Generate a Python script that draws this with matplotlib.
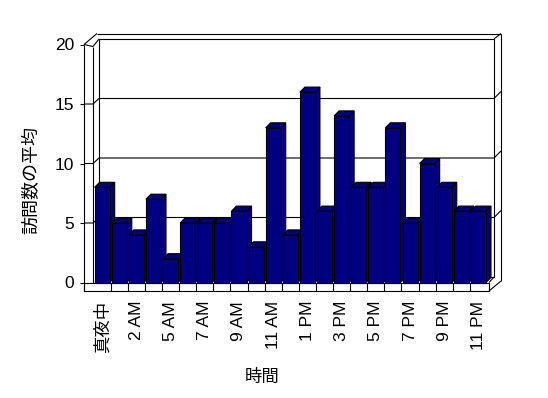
import matplotlib
matplotlib.use("Agg")
import matplotlib.pyplot as plt
from matplotlib.patches import Polygon

plt.rcParams['font.family'] = ['Liberation Sans', 'Noto Sans CJK JP']

# ---- data ----
categories = ["真夜中", "1 AM", "2 AM", "3 AM", "5 AM", "6 AM", "7 AM", "8 AM",
              "9 AM", "10 AM", "11 AM", "12 PM", "1 PM", "2 PM", "3 PM", "4 PM",
              "5 PM", "6 PM", "7 PM", "8 PM", "9 PM", "10 PM", "11 PM"]
values = [8, 5, 4, 7, 2, 5, 5, 5, 6, 3, 13, 4, 16, 6, 14, 8, 8, 13, 5, 10, 8, 6, 6]
y_ticks = [0, 5, 10, 15, 20]
x_label = "時間"
y_label = "訪問数の平均"

NAVY = "#000080"
W, H = 548, 398
fig = plt.figure(figsize=(W / 100, H / 100), dpi=100)

# layout in pixels (top-left origin)
L, R = 93.6, 487.0          # bar plane x extent
Y0, Y20 = 282.5, 44.5       # value 0 / 20 in front plane
n = len(categories)

ax = fig.add_axes([L / W, (H - Y0) / H, (R - L) / W, (Y0 - Y20) / H])
ax.set_xlim(-0.5, n - 0.5)
ax.set_ylim(0, 20)
ax.set_zorder(2)
ax.patch.set_visible(False)

bg = fig.add_axes([0, 0, 1, 1], zorder=0)
bg.set_xlim(0, W)
bg.set_ylim(H, 0)
bg.axis('off')

def vpx(v):
    return Y0 - (Y0 - Y20) * v / 20.0

def bpx(k):
    return L + (R - L) * k / n

lw = 0.8
kw = dict(color='black', lw=lw, solid_capstyle='butt')

FL = 84.0      # front-left outer edge
LWI = 93.0     # left wall inner edge
BWL = 99.0     # back wall inner left
BWR = 494.0    # back wall inner right
OR = 501.0     # outer right
FR = 489.0     # floor front right
FB = 291.0     # floor front bottom
d_in = (6.0, -5.5)   # offset front->back wall inner plane
d_out = (13.0, -11.0)

# back wall face (white) and outlines
top_in = vpx(20) + d_in[1]
bot_in = vpx(0) + d_in[1]
top_out = vpx(20) + d_out[1]
bg.add_patch(Polygon([(BWL, bot_in), (BWL, top_in), (BWR, top_in), (BWR, bot_in)],
                     closed=True, facecolor='white', edgecolor='black', lw=lw))
bg.plot([FL + d_out[0], OR], [top_out, top_out], **kw)
bg.plot([BWR, OR], [top_in, top_out], **kw)
bg.plot([OR, OR], [top_out, FB - 10], **kw)
# left wall
bg.plot([FL, FL], [vpx(20), FB], **kw)
bg.plot([FL, FL + d_out[0]], [vpx(20), top_out], **kw)
bg.plot([LWI, LWI], [vpx(20) + 2, vpx(0)], **kw)
bg.plot([LWI, BWL], [vpx(20) + 2, top_in], **kw)
bg.plot([FL, LWI], [vpx(20), vpx(20) + 2], **kw)
# gridlines across left wall, back wall and right wall thickness
for v in y_ticks[1:-1]:
    yf = vpx(v)
    yb = yf + d_in[1]
    bg.plot([FL, LWI, BWL, BWR, OR], [yf, yf, yb, yb, yb - 7], **kw)
# floor
bg.add_patch(Polygon([(FL, vpx(0)), (FR, vpx(0)), (FR, FB), (FL, FB)],
                     closed=True, facecolor='white', edgecolor='black', lw=lw))
bg.plot([FR, OR], [FB, FB - 10], **kw)
bg.plot([FR, BWR], [vpx(0), bot_in], **kw)
for k in range(1, n):
    bg.plot([bpx(k), bpx(k)], [vpx(0), FB], **kw)

# bars with pseudo-3D faces
ox = 5.0 / ((R - L) / n)
oy = 5.0 / ((Y0 - Y20) / 20)
bw = 0.88
for i, v in enumerate(values):
    z = 2 + i * 0.01
    x1, x2 = i - bw / 2, i + bw / 2
    side = Polygon([(x2, 0), (x2, v), (x2 + ox, v + oy), (x2 + ox, oy)], closed=True,
                   facecolor=NAVY, edgecolor='black', lw=lw, zorder=z, clip_on=False)
    top = Polygon([(x1, v), (x2, v), (x2 + ox, v + oy), (x1 + ox, v + oy)], closed=True,
                  facecolor=NAVY, edgecolor='black', lw=lw, zorder=z, clip_on=False)
    ax.add_patch(side)
    ax.add_patch(top)
    ax.bar(i, v, width=bw, color=NAVY, edgecolor='black', linewidth=lw,
           zorder=z + 0.005, clip_on=False)

for s in ax.spines.values():
    s.set_visible(False)
ax.spines['left'].set_position(('outward', (L - FL) * 0.72))

ax.set_yticks(y_ticks)
ax.set_yticklabels([str(t) for t in y_ticks])
ax.tick_params(axis='y', direction='out', length=3, width=lw, pad=4,
               labelsize=12.5, color='black')
ax.set_xticks(range(0, n, 2))
ax.set_xticklabels(categories[::2])
ax.tick_params(axis='x', length=0, pad=13.3, labelsize=12.5, labelrotation=90)
for t in ax.get_xticklabels():
    t.set_verticalalignment('top')

fig.text(32 / W, 1 - 180 / H, y_label, rotation=90, ha='center', va='center',
         fontsize=13)
fig.text(262 / W, 1 - 377 / H, x_label, ha='center', va='center', fontsize=12.5)

fig.savefig("out.png", dpi=100, facecolor='white')
